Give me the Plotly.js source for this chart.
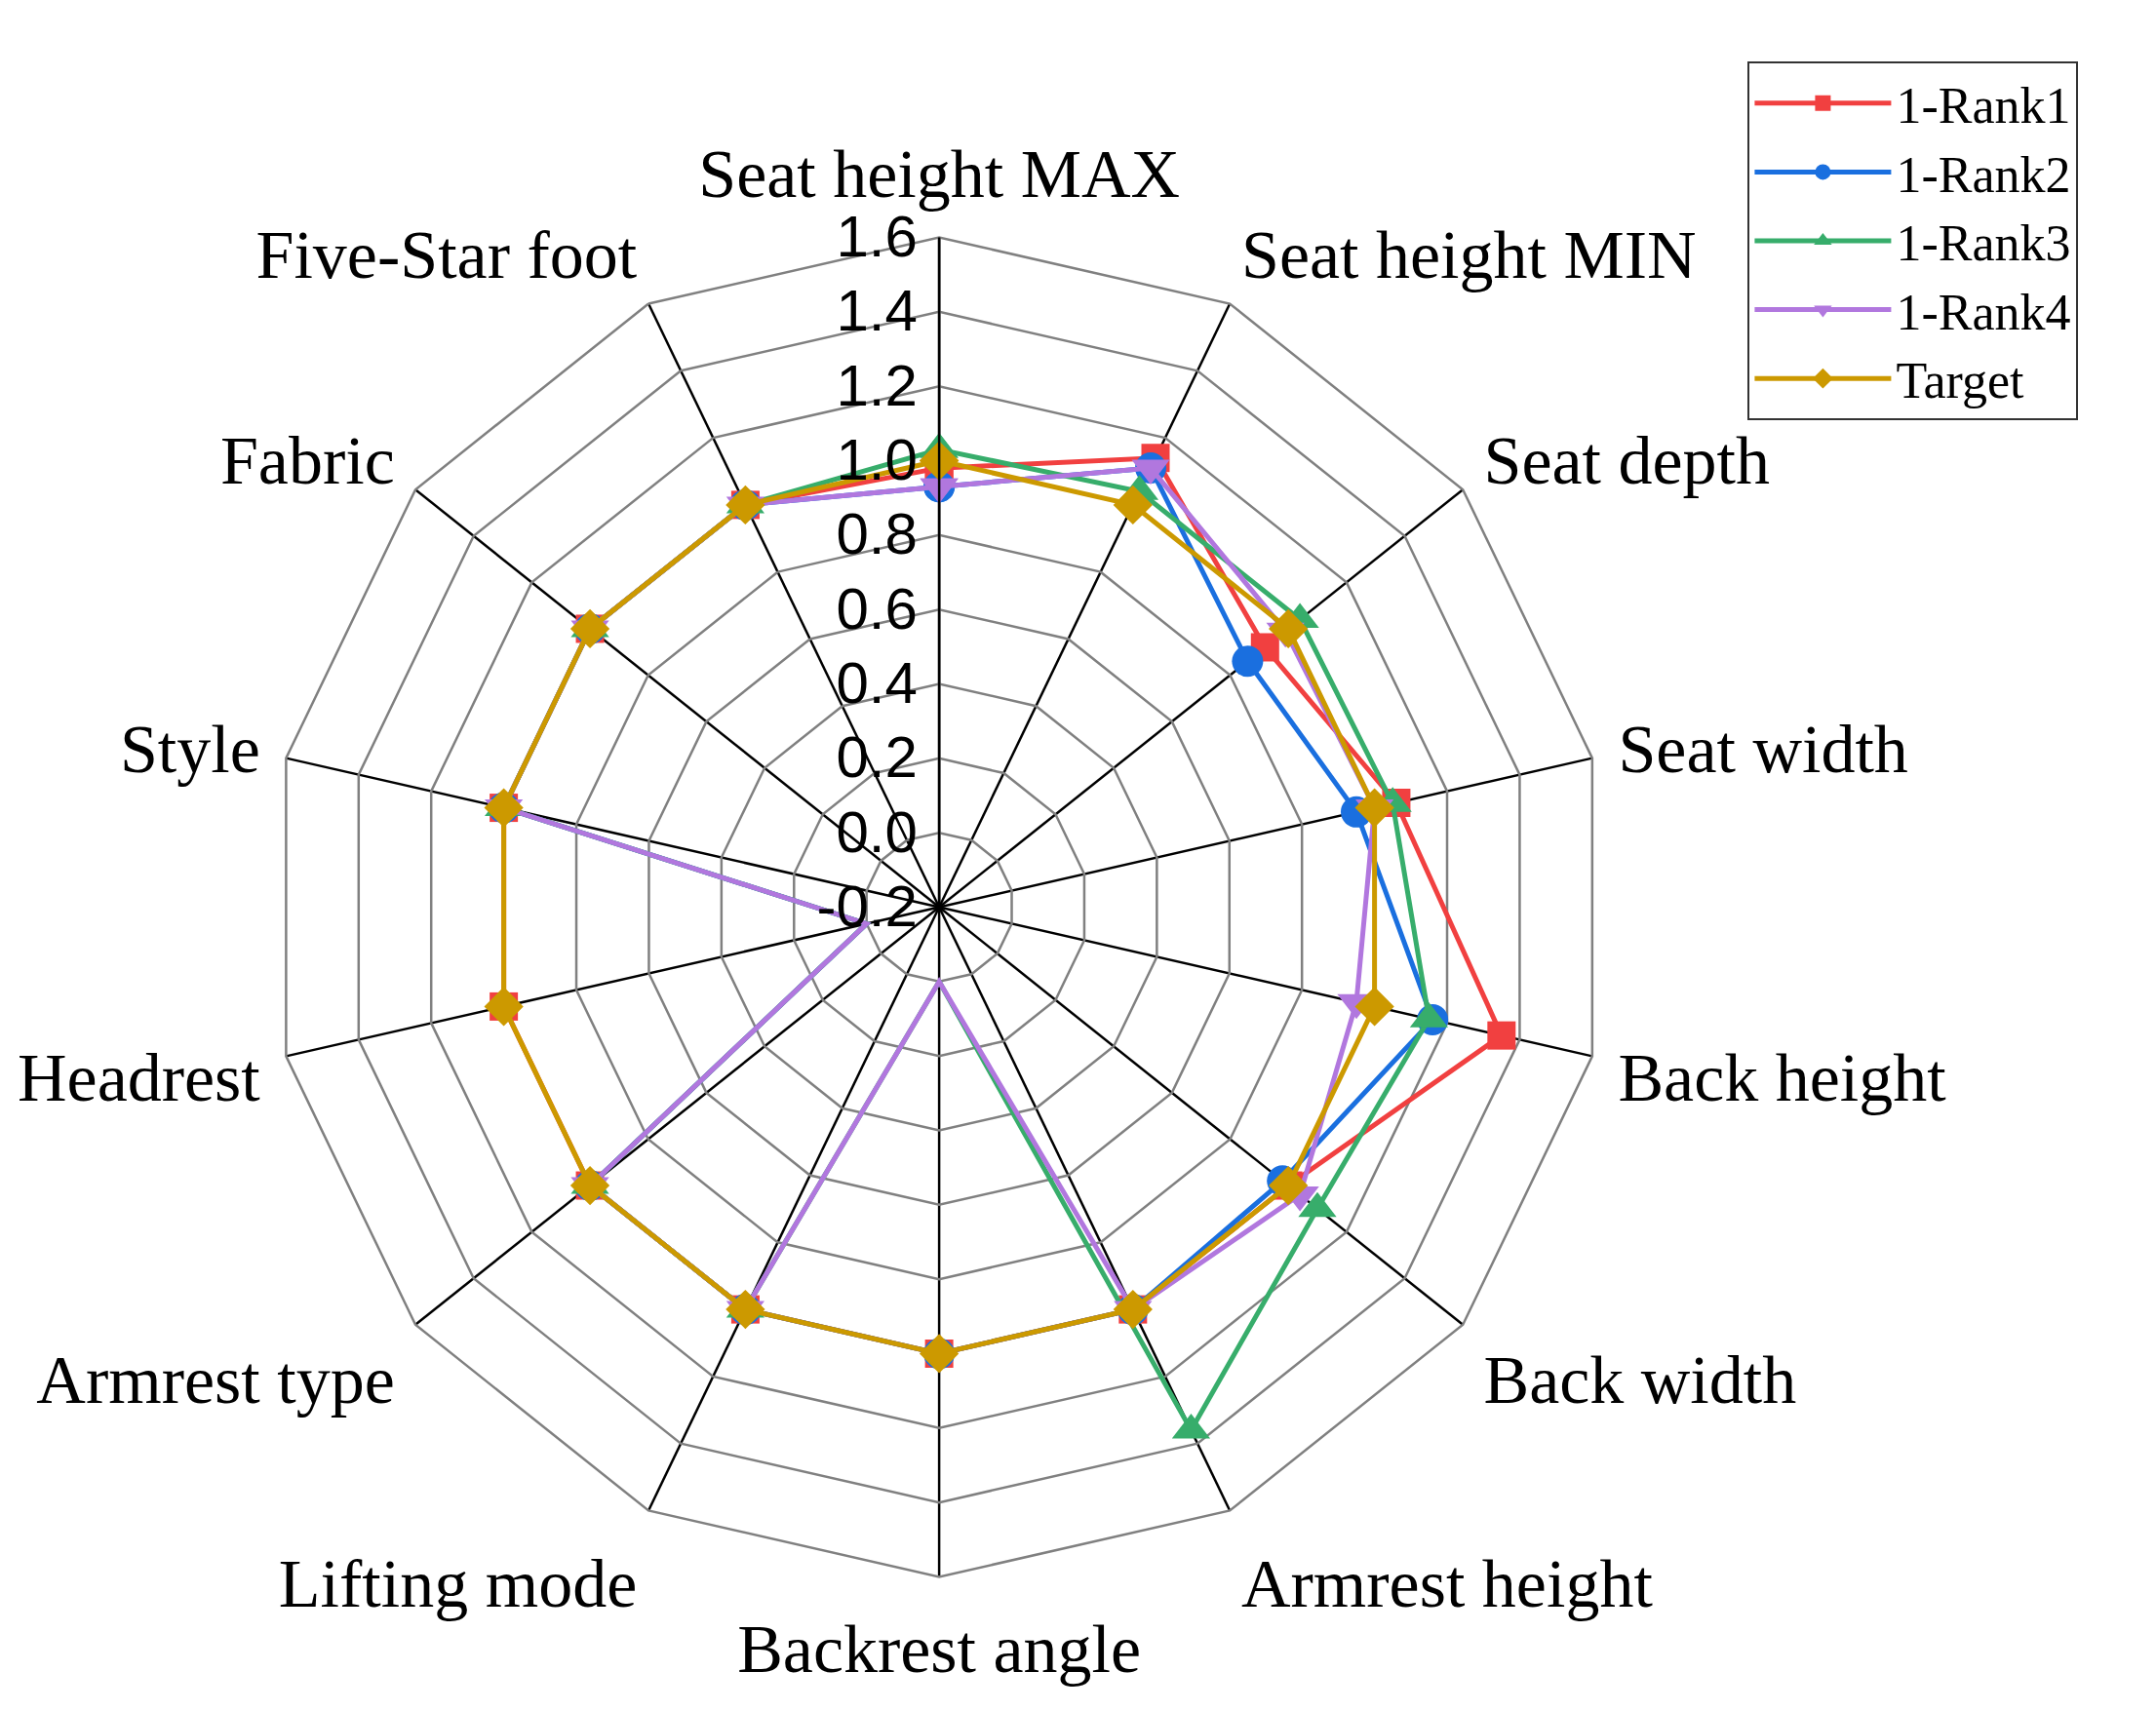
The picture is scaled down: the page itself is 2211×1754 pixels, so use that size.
<!DOCTYPE html>
<html>
<head>
<meta charset="utf-8">
<script src="https://cdn.plot.ly/plotly-3.0.1.min.js"></script>
<style>html,body{margin:0;padding:0;background:#fff;}#chart{width:2211px;height:1754px;}</style>
</head>
<body>
<div id="chart"></div>
<script>
const categories = ["Seat height MAX","Seat height MIN","Seat depth","Seat width","Back height","Back width","Armrest height","Backrest angle","Lifting mode","Armrest type","Headrest","Style","Fabric","Five-Star foot"];
const rank1  = [0.98, 1.14, 0.92, 1.06, 1.35, 1.00, 1.00, 1.00, 1.00, 1.00, 1.00, 1.00, 1.00, 1.00];
const rank2  = [0.93, 1.11, 0.86, 0.95, 1.16, 0.98, 1.00, 1.00, 1.00, 1.00, 0.00, 1.00, 1.00, 1.00];
const rank3  = [1.03, 1.04, 1.04, 1.05, 1.15, 1.10, 1.36, 0.00, 1.00, 1.00, 0.00, 1.00, 1.00, 1.00];
const rank4  = [0.93, 1.11, 0.99, 1.00, 0.95, 1.04, 1.00, 0.00, 1.00, 1.00, 0.00, 1.00, 1.00, 1.00];
const target = [1.00, 1.00, 1.00, 1.00, 1.00, 1.00, 1.00, 1.00, 1.00, 1.00, 1.00, 1.00, 1.00, 1.00];
const seriesNames = ["1-Rank1","1-Rank2","1-Rank3","1-Rank4","Target"];
const radialTicks = [-0.2,0.0,0.2,0.4,0.6,0.8,1.0,1.2,1.4,1.6];

const colors  = ["#F14040","#1A6FDF","#37AD6B","#B177DE","#CC9900"];
const symbols = ["square","circle","triangle-up","triangle-down","diamond"];
const sizes   = [29, 32, 34, 34, 31];
const allSeries = [rank1, rank2, rank3, rank4, target];

const traces = allSeries.map((vals, i) => ({
  type: "scatterpolar",
  mode: "lines+markers",
  name: seriesNames[i],
  r: vals.concat([vals[0]]),
  theta: categories.concat([categories[0]]),
  line: {color: colors[i], width: 5},
  marker: {symbol: symbols[i], size: sizes[i], color: colors[i], line: {width: 0}},
  cliponaxis: false
}));

const layout = {
  width: 2211, height: 1754,
  margin: {l: 0, r: 0, t: 0, b: 0},
  paper_bgcolor: "#fff",
  showlegend: true,
  legend: {
    x: 0.964, xanchor: "right", y: 0.9638, yanchor: "top",
    bgcolor: "#fff", bordercolor: "#333", borderwidth: 2,
    font: {family: "Liberation Serif, Times New Roman, serif", size: 52, color: "#000"},
    itemwidth: 140, tracegroupgap: 0
  },
  polar: {
    domain: {x: [0.1249, 0.7463], y: [0.0778, 0.8612]},
    gridshape: "linear",
    bgcolor: "#fff",
    angularaxis: {
      type: "category",
      categoryarray: categories,
      direction: "clockwise",
      rotation: 90,
      showgrid: true, gridcolor: "#000", gridwidth: 2.5,
      showline: true, linecolor: "#808080", linewidth: 2.5,
      ticks: "outside", ticklen: 12, tickcolor: "rgba(0,0,0,0)",
      tickfont: {family: "Liberation Serif, Times New Roman, serif", size: 70, color: "#000"}
    },
    radialaxis: {
      range: [-0.2, 1.6],
      tickvals: radialTicks,
      ticktext: radialTicks.map(v => v.toFixed(1)),
      angle: 90,
      side: "counterclockwise",
      tickangle: 90,
      showgrid: true, gridcolor: "#808080", gridwidth: 2.5,
      showline: true, linecolor: "#000", linewidth: 2.5,
      ticks: "",
      tickfont: {family: "Liberation Sans, Arial, sans-serif", size: 60, color: "#000"}
    }
  }
};

Plotly.newPlot("chart", traces, layout, {displayModeBar: false, staticPlot: true});
</script>
</body>
</html>
